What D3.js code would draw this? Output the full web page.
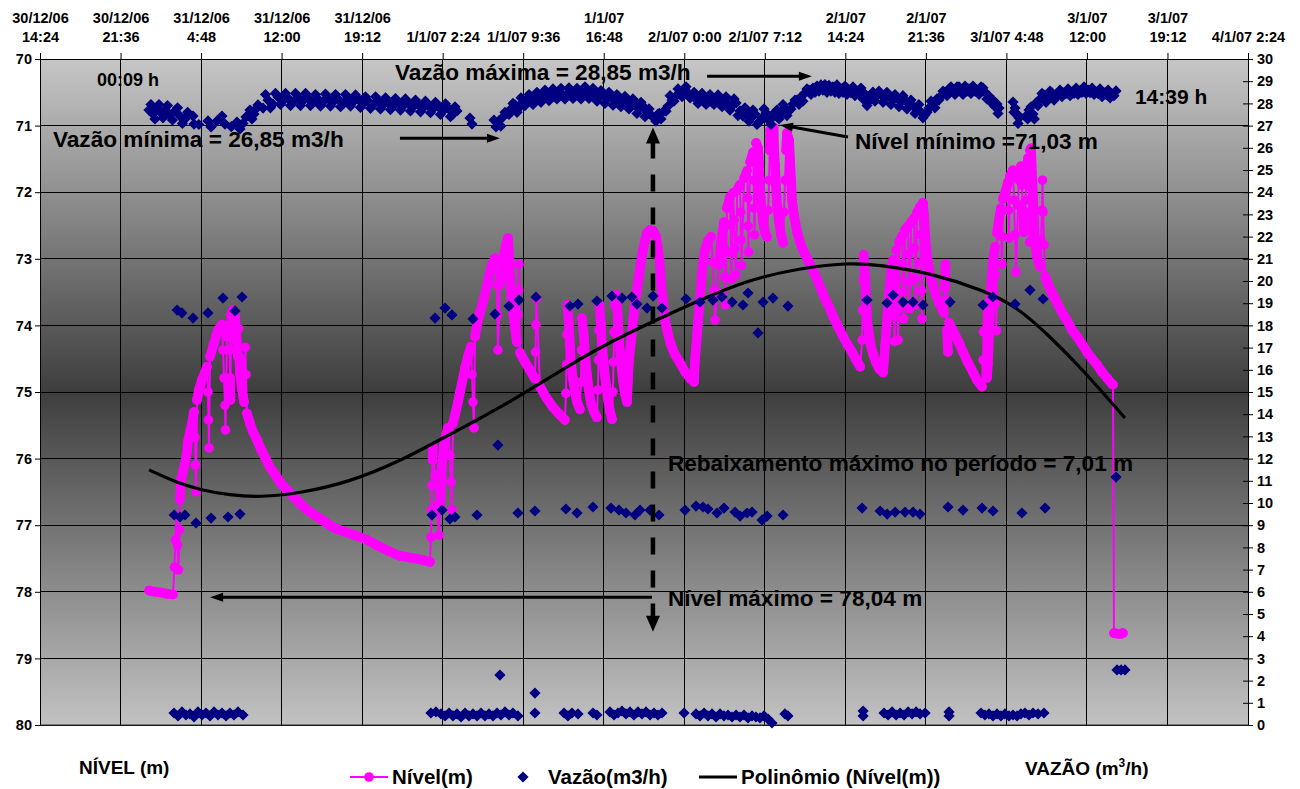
<!DOCTYPE html>
<html>
<head>
<meta charset="utf-8">
<script src="https://cdn.jsdelivr.net/npm/d3@7"></script>
<style>
  body { margin: 0; background: #fff; }
  svg text { font-family: "Liberation Sans", Arial, sans-serif; font-weight: bold; fill: #000; }
</style>
</head>
<body>
<div id="chart"></div>
<script>
// time is in hours counted from 31/12/06 00:00
const timeTicks = [-9.6, -2.4, 4.8, 12, 19.2, 26.4, 33.6, 40.8, 48, 55.2, 62.4, 69.6, 76.8, 84, 91.2, 98.4];
const timeLabels = ["30/12/06\n14:24", "30/12/06\n21:36", "31/12/06\n4:48", "31/12/06\n12:00", "31/12/06\n19:12",
  "1/1/07 2:24", "1/1/07 9:36", "1/1/07\n16:48", "2/1/07 0:00", "2/1/07 7:12", "2/1/07\n14:24", "2/1/07\n21:36",
  "3/1/07 4:48", "3/1/07\n12:00", "3/1/07\n19:12", "4/1/07 2:24"];
const nivelTicks = [70, 71, 72, 73, 74, 75, 76, 77, 78, 79, 80];
const vazaoTicks = [0, 1, 2, 3, 4, 5, 6, 7, 8, 9, 10, 11, 12, 13, 14, 15, 16, 17, 18, 19, 20, 21, 22, 23, 24, 25, 26, 27, 28, 29, 30];

// Nível (m) : [hour, level]
const nivel = [
  [0.15,77.98],[0.68,78.00],[1.22,78.01],[1.75,78.03],[2.29,78.04],
  [2.42,77.63],[2.51,77.22],[2.60,76.85],[2.69,77.30],[2.78,77.67],[2.87,77.07],[2.91,76.62],[3.00,76.32],
  [3.18,76.20],[3.36,76.08],[3.54,75.90],[3.63,75.74],[3.81,75.60],[3.99,75.47],[4.17,75.30],
  [4.26,75.68],[4.30,76.10],[4.35,76.50],
  [4.44,75.12],[4.61,74.97],[4.88,74.82],[5.15,74.71],[5.33,74.62],
  [5.42,75.00],[5.46,75.42],[5.51,75.84],
  [5.60,74.47],[5.87,74.32],[6.13,74.17],[6.31,74.07],[6.67,73.99],
  [6.76,74.37],[6.85,74.79],[6.94,75.20],[6.98,75.57],
  [7.12,74.17],[7.30,73.99],[7.36,74.37],[7.39,74.79],[7.43,75.12],[7.47,73.86],[7.65,73.77],
  [7.83,73.87],[7.92,74.07],[8.01,74.26],[8.10,74.47],[8.16,74.05],[8.22,74.47],[8.28,74.73],[8.46,74.97],[8.64,75.15],
  [8.70,74.74],[8.76,74.33],[8.82,74.74],[8.90,75.32],
  [9.17,75.47],[9.44,75.60],[9.80,75.72],[10.16,75.86],[10.52,75.98],[10.96,76.13],[11.50,76.26],[11.94,76.37],
  [12.48,76.47],[13.11,76.58],[13.64,76.67],[14.27,76.77],[14.98,76.85],[15.79,76.94],[16.59,77.03],[17.49,77.09],
  [18.56,77.15],[19.63,77.22],[20.62,77.31],[21.60,77.39],[22.58,77.46],[23.57,77.49],[24.55,77.52],[25.27,77.55],
  [25.35,77.18],[25.40,76.77],[25.44,76.40],[25.49,76.02],[25.53,75.83],
  [25.71,76.25],[25.89,76.70],[26.07,77.15],
  [26.16,76.77],[26.25,76.44],[26.34,76.10],[26.52,75.80],[26.69,75.65],[26.87,75.54],
  [27.05,75.95],[27.14,76.35],[27.23,76.77],
  [27.32,75.47],[27.50,75.35],[27.77,75.15],[27.95,75.00],[28.22,74.79],[28.40,74.64],[28.66,74.47],[28.93,74.32],
  [29.02,74.74],[29.11,75.15],[29.20,75.54],
  [29.29,74.17],[29.47,73.99],[29.74,73.81],[30.00,73.65],[30.27,73.47],[30.54,73.26],[30.81,73.09],[31.08,72.99],
  [31.26,73.39],[31.30,73.84],[31.34,74.37],
  [31.52,73.39],[31.70,73.14],[31.88,72.94],[32.06,72.79],[32.24,72.69],
  [32.33,72.91],[32.42,73.20],[32.51,73.50],[32.68,73.80],[32.86,74.04],[33.04,74.25],
  [33.13,73.84],[33.17,73.47],[33.22,73.08],
  [33.31,74.41],[33.76,74.55],[34.20,74.67],[34.65,74.80],
  [34.70,74.40],[34.74,73.99],[34.79,73.59],
  [35.10,74.92],[35.64,75.08],[36.26,75.23],[36.80,75.33],[37.33,75.42],
  [37.42,75.02],[37.47,74.59],[37.51,74.14],[37.56,73.69],[37.69,73.99],[37.78,74.29],[37.87,74.56],[38.05,74.80],
  [38.23,75.00],[38.41,75.15],[38.67,75.26],
  [38.76,74.85],[38.81,74.37],[38.85,73.89],[39.03,74.17],[39.12,74.44],[39.30,74.73],[39.48,74.98],[39.66,75.17],
  [39.93,75.30],[40.19,75.38],
  [40.28,74.97],[40.33,74.52],[40.37,74.07],[40.42,73.69],[40.55,73.99],[40.64,74.29],[40.82,74.61],[41.00,74.89],
  [41.18,75.12],[41.36,75.29],[41.54,75.41],
  [41.63,75.00],[41.67,74.55],[41.72,74.10],[41.80,73.69],[41.89,73.54],[42.07,73.89],[42.16,74.22],[42.34,74.55],
  [42.52,74.83],[42.70,75.03],[42.88,75.15],
  [42.96,74.85],[43.05,74.55],[43.23,74.25],[43.41,73.95],[43.59,73.69],[43.77,73.47],[43.95,73.26],[44.13,73.05],
  [44.31,72.87],[44.49,72.72],[44.67,72.61],[44.94,72.57],[45.21,72.58],[45.47,72.66],
  [45.65,72.84],[45.83,73.09],[45.92,73.36],[46.10,73.65],[46.28,73.92],[46.55,74.13],[46.81,74.29],[47.17,74.44],
  [47.62,74.56],[48.07,74.70],[48.51,74.79],[48.87,74.85],
  [48.96,74.52],[49.05,74.34],[49.14,74.14],[49.23,73.95],[49.32,73.77],[49.41,73.59],[49.49,73.42],[49.58,73.24],
  [49.67,73.08],[49.85,72.87],[50.12,72.73],[50.39,72.67],
  [50.57,73.05],[50.66,73.47],[50.75,73.92],
  [50.93,73.50],[51.11,73.09],[51.28,72.75],[51.55,72.45],[51.60,72.85],[51.64,73.27],[51.69,73.69],
  [51.82,72.24],[52.09,72.07],[52.14,72.49],[52.18,72.91],[52.22,73.30],[52.36,72.01],
  [52.45,72.42],[52.54,72.84],[52.63,73.24],
  [52.72,71.97],[52.99,71.89],[53.04,72.30],[53.08,72.72],[53.12,73.10],[53.35,71.79],[53.62,71.68],
  [53.67,72.09],[53.71,72.51],[53.75,72.90],[53.89,71.55],[54.15,71.40],[54.20,71.82],[54.24,72.24],[54.28,72.64],
  [54.42,71.26],[54.60,71.34],
  [54.69,71.59],[54.78,71.89],[54.87,72.19],[55.05,72.45],[55.23,72.61],[55.41,72.67],
  [55.50,72.27],[55.59,71.82],[55.63,71.37],[55.68,71.07],[55.85,71.03],[55.99,71.03],
  [56.02,71.29],[56.11,71.59],[56.20,71.89],[56.29,72.19],[56.47,72.45],[56.65,72.64],[56.83,72.76],
  [56.92,72.30],[57.01,71.82],[57.10,71.37],[57.19,71.11],[57.37,71.22],
  [57.46,71.52],[57.55,71.82],[57.64,72.12],[57.82,72.36],[58.09,72.60],[58.35,72.75],[58.62,72.87],[58.98,72.99],
  [59.34,73.12],[59.79,73.27],[60.15,73.42],[60.51,73.57],[60.95,73.72],[61.31,73.87],[61.76,74.02],[62.20,74.17],
  [62.56,74.28],[63.01,74.40],[63.37,74.52],[63.73,74.62],
  [63.90,74.22],[63.95,73.77],[63.99,73.32],[64.04,72.94],[64.17,73.29],[64.26,73.62],[64.35,73.92],[64.53,74.14],
  [64.71,74.32],[64.89,74.44],[65.16,74.56],[65.42,74.65],[65.78,74.71],
  [65.86,74.52],[65.95,74.31],[66.05,74.10],[66.14,73.89],[66.23,73.69],[66.31,73.50],[66.49,73.20],[66.67,73.02],
  [66.71,73.44],[66.76,73.86],[66.80,74.24],
  [66.94,72.87],
  [67.03,73.32],[67.07,73.77],[67.12,74.22],
  [67.21,72.75],[67.48,72.66],[67.53,73.08],[67.57,73.50],[67.61,73.90],[67.74,72.57],[68.01,72.51],
  [68.05,72.93],[68.10,73.35],[68.14,73.75],[68.28,72.45],[68.55,72.39],
  [68.59,72.84],[68.64,73.29],[68.68,73.69],
  [68.80,72.31],[69.07,72.22],[69.12,72.64],[69.16,73.06],[69.21,73.48],[69.25,73.90],[69.34,72.16],
  [69.43,72.34],[69.52,72.57],[69.61,72.81],[69.79,73.05],[69.97,73.24],[70.23,73.39],[70.50,73.54],[70.86,73.69],
  [71.22,73.81],
  [71.31,73.44],[71.35,73.08],[71.44,73.62],[71.49,74.07],[71.58,74.40],
  [71.67,73.96],[72.11,74.11],[72.56,74.26],[72.92,74.40],[73.37,74.56],[73.81,74.70],[74.17,74.82],[74.62,74.92],
  [74.71,74.52],[74.75,74.10],[74.80,73.69],[74.89,74.07],[74.97,74.49],[75.06,74.79],
  [75.15,74.58],[75.20,74.37],[75.24,74.16],[75.29,73.95],[75.33,73.74],[75.38,73.56],[75.47,73.32],[75.60,73.05],
  [75.78,72.82],[75.82,73.24],[75.87,73.66],[75.91,74.08],[75.96,72.61],[76.14,72.42],[76.31,72.24],
  [76.36,72.66],[76.40,73.08],[76.49,72.10],[76.76,71.97],[76.94,71.85],[76.98,72.27],[77.03,72.69],[77.12,71.76],
  [77.39,71.67],
  [77.48,72.12],[77.57,72.64],[77.66,73.20],
  [77.84,72.19],[77.93,71.82],[78.10,71.61],[78.19,71.89],[78.28,72.27],[78.37,72.60],
  [78.51,72.12],[78.60,71.74],[78.73,71.49],[78.78,71.91],[78.82,72.33],[78.87,72.75],[78.91,71.37],[79.00,71.34],
  [79.09,71.70],[79.18,72.06],[79.27,72.42],[79.36,72.75],[79.54,72.97],[79.81,73.12],
  [79.90,72.72],[79.99,72.27],[80.03,71.82],[80.08,72.30],[80.17,72.79],[80.26,73.26],
  [80.43,73.35],[80.79,73.48],[81.15,73.60],[81.51,73.72],[81.86,73.83],[82.31,73.95],[82.67,74.07],[83.11,74.17],
  [83.56,74.28],[84.01,74.40],[84.45,74.50],[84.90,74.59],[85.35,74.70],[85.79,74.79],[86.24,74.88],[86.33,74.89],
  [86.42,78.62],[86.78,78.63],[87.04,78.63],[87.22,78.62]
];

// Vazão (m3/h) : [hour, flow]
const vazao = [
  // pumping, ~27-29
  [0.14,27.70],[0.50,27.52],[0.86,27.79],[1.22,27.57],[1.57,27.70],[2.02,27.48],[2.47,27.66],[2.91,27.43],
  [3.36,27.30],[4.08,27.43],[4.17,27.07],[5.42,27.21],[5.69,26.94],[6.67,27.43],[6.94,27.07],[8.01,27.16],
  [8.28,26.85],[8.82,27.39],[9.17,27.70],[9.53,27.52],[9.89,27.93],[10.34,27.79],[10.78,28.15],[11.23,27.97],
  [11.68,28.29],[12.12,28.11],[12.57,28.24],[13.02,28.06],[13.46,28.29],[13.91,28.11],[14.36,28.24],[14.81,28.02],
  [15.25,28.20],[15.70,28.06],[16.15,28.24],[16.60,28.06],[17.04,28.20],[17.49,28.02],[17.94,28.24],[18.39,28.06],
  [18.83,28.20],[19.28,27.97],[19.72,28.11],[20.17,27.93],[20.62,28.11],[21.06,27.93],[21.51,28.06],[21.96,27.88],
  [22.40,28.06],[22.85,27.88],[23.30,28.02],[23.75,27.84],[24.19,27.97],[24.64,27.79],[25.09,27.93],[25.54,27.75],
  [25.98,27.88],[26.43,27.66],[26.88,27.79],[27.32,27.52],[27.68,27.66],[28.84,27.34],[29.02,27.07],[30.99,27.25],
  [31.17,26.94],[31.43,27.21],[31.79,27.39],[32.15,27.57],[32.51,27.75],[32.87,27.93],[33.22,27.79],[33.58,28.06],
  [33.94,28.20],[34.30,28.06],[34.65,28.33],[35.01,28.20],[35.37,28.42],[35.73,28.29],[36.08,28.47],[36.44,28.29],
  [36.80,28.51],[37.16,28.33],[37.51,28.42],[37.87,28.56],[38.23,28.33],[38.59,28.51],[38.95,28.38],[39.30,28.60],
  [39.66,28.38],[40.02,28.51],[40.38,28.29],[40.73,28.42],[41.09,28.20],[41.45,28.33],[41.81,28.11],[42.16,28.24],
  [42.52,28.02],[42.88,28.15],[43.24,27.93],[43.59,28.02],[43.95,27.75],[44.31,27.88],[44.67,27.61],[45.03,27.48],
  [45.29,27.34],[45.65,27.52],[45.92,27.30],[46.19,27.66],[46.55,27.88],[46.91,28.15],[47.26,28.33],[47.62,28.51],
  [47.98,28.65],[48.34,28.47],[48.70,28.33],[49.05,28.20],[49.41,28.33],[49.77,28.11],[50.13,28.24],[50.48,28.06],
  [50.84,28.20],[51.20,28.02],[51.55,28.15],[51.91,27.97],[52.27,27.88],[52.63,28.02],[52.98,27.66],[53.25,27.43],
  [53.61,27.61],[53.97,27.34],[54.32,27.52],[54.68,27.16],[54.95,27.34],[55.31,27.57],[55.58,27.21],[55.93,27.39],
  [56.29,27.70],[56.65,27.52],[57.00,27.79],[57.36,27.66],[57.72,27.97],[58.08,28.15],[58.43,28.29],[58.79,28.47],
  [59.15,28.60],[59.51,28.69],[59.86,28.78],[60.22,28.83],[60.58,28.85],[60.94,28.81],[61.29,28.74],[61.65,28.83],
  [62.01,28.65],[62.37,28.78],[62.73,28.60],[63.08,28.74],[63.44,28.56],[63.80,28.69],[64.16,28.42],[64.52,28.11],
  [64.87,28.51],[65.23,28.33],[65.59,28.38],[65.95,28.24],[66.30,28.33],[66.66,28.15],[67.02,28.24],[67.38,28.06],
  [67.73,28.15],[68.09,27.97],[68.45,27.88],[68.81,27.75],[69.16,27.61],[69.52,27.48],[69.88,27.79],[70.24,27.97],
  [70.59,28.20],[70.95,28.33],[71.31,28.51],[71.67,28.65],[72.02,28.56],[72.38,28.74],[72.74,28.60],[73.10,28.78],
  [73.45,28.65],[73.81,28.78],[74.17,28.60],[74.53,28.74],[74.88,28.51],[75.24,28.33],[75.60,28.15],[75.96,27.97],
  [76.14,27.79],[77.39,28.06],[77.57,27.79],[77.75,27.52],[77.93,27.34],[78.55,27.43],[78.82,27.70],[79.18,27.52],
  [79.44,28.02],[79.81,28.20],[80.16,28.38],[80.52,28.29],[80.88,28.47],[81.24,28.38],[81.59,28.60],[81.95,28.47],
  [82.31,28.65],[82.67,28.51],[83.03,28.69],[83.38,28.56],[83.74,28.74],[84.10,28.60],[84.46,28.69],[84.81,28.51],
  [85.17,28.65],[85.53,28.47],[85.89,28.60],[86.24,28.42],[86.60,28.56],
  // pumping, spread of the band
  [0.32,27.95],[0.68,27.30],[1.04,27.95],[1.40,27.35],[1.80,27.90],[2.24,27.25],[2.70,27.80],[3.13,27.10],
  [3.60,27.60],[4.60,27.05],[6.20,27.20],[7.50,26.95],[8.55,27.10],[9.35,27.30],[9.70,27.75],
  [10.56,28.40],[11.00,27.80],[11.45,28.45],[11.90,27.95],[12.35,28.45],[12.80,27.90],[13.24,28.45],[13.69,27.90],
  [14.14,28.45],[14.58,27.90],[15.03,28.40],[15.48,27.88],[15.92,28.42],[16.37,27.88],[16.82,28.40],[17.27,27.85],
  [17.71,28.40],[18.16,27.88],[18.61,28.38],[19.05,27.82],[19.50,28.30],[19.95,27.78],[20.40,28.30],[20.84,27.75],
  [21.29,28.25],[21.73,27.72],[22.18,28.22],[22.63,27.70],[23.07,28.20],[23.52,27.66],[23.97,28.15],[24.42,27.62],
  [24.86,28.10],[25.31,27.58],[25.76,28.05],[26.20,27.50],[26.65,27.98],[27.10,27.40],[27.50,27.85],
  [31.60,26.98],[31.97,27.60],[32.33,27.50],[32.69,28.00],[33.05,27.60],[33.40,28.25],[33.76,27.90],[34.12,28.40],
  [34.48,27.95],[34.83,28.50],[35.19,28.05],[35.55,28.60],[35.91,28.12],[36.26,28.65],[36.62,28.20],[36.98,28.68],
  [37.33,28.20],[37.69,28.70],[38.05,28.22],[38.41,28.68],[38.77,28.20],[39.12,28.75],[39.48,28.22],[39.84,28.68],
  [40.20,28.10],[40.55,28.58],[40.91,28.00],[41.27,28.50],[41.63,27.92],[41.98,28.40],[42.34,27.85],[42.70,28.32],
  [43.06,27.75],[43.41,28.20],[43.77,27.55],[44.13,28.05],[44.49,27.40],[44.85,27.75],[45.47,27.20],[45.78,27.55],
  [46.37,27.65],[46.73,28.35],[47.08,28.10],[47.44,28.65],[47.80,28.30],[48.16,28.75],[48.52,28.25],[48.88,28.50],
  [49.23,28.00],[49.59,28.45],[49.95,27.95],[50.30,28.40],[50.66,27.95],[51.02,28.38],[51.38,27.85],[51.73,28.30],
  [52.09,27.70],[52.45,28.20],[52.80,27.45],[53.43,27.80],[53.79,27.20],[54.14,27.70],[54.50,27.05],[55.13,27.75],
  [55.76,27.05],[56.11,27.60],[56.47,27.30],[56.83,27.95],[57.18,27.45],[57.54,27.75],[57.90,28.15],[58.26,27.95],
  [58.61,28.10],[58.97,28.65],[59.33,28.40],[59.69,28.50],[60.04,28.55],[60.40,28.60],[60.76,28.50],[61.11,28.55],
  [61.47,28.50],[61.83,28.45],[62.19,28.50],[62.55,28.40],[62.90,28.48],[63.26,28.35],[63.62,28.45],[63.98,28.20],
  [64.34,27.90],[64.70,28.25],[65.05,28.10],[65.41,28.55],[65.77,28.05],[66.12,28.50],[66.48,27.95],[66.84,28.40],
  [67.20,27.85],[67.55,28.35],[67.91,27.75],[68.27,28.15],[68.63,27.55],[68.98,27.95],[69.34,27.35],[69.70,27.60],
  [70.06,28.10],[70.41,27.80],[70.77,28.15],[71.13,28.55],[71.49,28.35],[71.85,28.75],[72.20,28.40],[72.56,28.75],
  [72.92,28.40],[73.27,28.55],[73.63,28.45],[73.99,28.55],[74.35,28.40],[74.70,28.70],[75.06,28.20],[75.42,28.05],
  [75.78,27.85],[76.05,27.55],
  [77.48,27.60],[77.84,27.10],[78.70,27.30],[79.00,27.85],[79.30,27.30],[79.62,27.90],[79.98,28.45],[80.34,28.05],
  [80.70,28.55],[81.06,28.15],[81.41,28.40],[81.77,28.30],[82.13,28.45],[82.49,28.35],[82.85,28.45],[83.20,28.40],
  [83.56,28.50],[83.92,28.45],[84.28,28.48],[84.64,28.40],[84.99,28.45],[85.35,28.30],[85.71,28.40],[86.07,28.25],
  [86.42,28.35],
  // ~19
  [2.66,18.69],[3.09,18.56],[4.08,18.33],[5.42,18.56],[6.76,19.23],[7.83,18.65],[8.46,19.28],
  [25.72,18.33],[26.61,18.78],[27.23,18.47],[29.11,18.29],[31.08,18.51],[32.33,18.87],[33.22,19.14],[34.74,19.28],
  [37.78,18.87],[38.50,18.96],[40.19,19.10],[41.54,19.32],[42.43,19.23],[43.32,19.28],[43.77,18.96],[44.67,18.78],
  [45.21,19.32],[46.01,18.78],[48.16,19.19],[49.41,19.05],[50.57,19.14],[51.37,19.28],[52.27,19.05],[53.25,18.92],
  [53.70,19.46],[54.59,17.66],[55.04,19.05],[55.93,19.23],[57.27,18.87],
  [64.34,19.14],[66.13,19.01],[66.67,19.37],[67.56,19.05],[68.45,19.05],[69.34,18.92],[71.76,19.05],
  [74.71,18.92],[75.60,19.28],[77.57,18.96],[78.91,19.59],[80.08,19.19],
  [31.34,12.61],[86.60,11.17],
  // ~9.5
  [2.40,9.46],[2.91,9.37],[3.36,9.46],[4.35,9.10],[5.69,9.32],[7.21,9.37],[8.28,9.50],
  [25.45,9.46],[26.34,9.68],[27.05,9.28],[27.50,9.37],[29.47,9.46],[33.13,9.55],[34.65,9.64],[37.42,9.73],
  [38.41,9.55],[39.84,9.82],[41.45,9.77],[42.16,9.68],[42.79,9.55],[43.59,9.46],[44.04,9.68],[44.94,9.68],
  [45.74,9.46],[48.07,9.68],[49.05,9.86],[49.67,9.82],[50.12,9.73],[50.93,9.55],[51.55,9.77],[52.54,9.59],
  [52.99,9.41],[53.61,9.55],[54.06,9.59],[54.95,9.23],[55.40,9.41],[56.83,9.46],
  [63.90,9.77],[65.51,9.64],[66.14,9.50],[66.85,9.59],[67.74,9.59],[68.45,9.59],[69.07,9.50],[71.58,9.82],
  [72.92,9.68],[74.62,9.77],[75.60,9.64],[78.19,9.55],[80.26,9.77],
  // ~0.5
  [2.38,0.54],[2.74,0.41],[3.09,0.59],[3.45,0.45],[3.81,0.50],[4.17,0.36],[4.52,0.59],[4.88,0.45],[5.24,0.54],
  [5.60,0.41],[5.96,0.59],[6.31,0.45],[6.67,0.54],[7.03,0.41],[7.38,0.54],[7.74,0.45],[8.10,0.59],[8.55,0.45],
  [25.35,0.54],[25.80,0.59],[26.25,0.50],[26.61,0.41],[26.97,0.54],[27.32,0.41],[27.68,0.50],[28.04,0.36],
  [28.40,0.54],[28.75,0.41],[29.11,0.50],[29.47,0.41],[29.83,0.54],[30.18,0.41],[30.54,0.50],[30.90,0.41],
  [31.26,0.54],[31.61,0.45],[31.97,0.59],[32.33,0.45],[32.68,0.54],[33.13,0.41],[31.52,2.25],[34.65,1.44],[34.65,0.54],
  [37.25,0.54],[37.60,0.41],[37.96,0.54],[38.50,0.50],[39.84,0.54],[40.19,0.45],
  [41.36,0.59],[41.72,0.45],[42.07,0.54],[42.43,0.63],[42.79,0.50],[43.15,0.59],[43.50,0.45],[43.86,0.59],
  [44.22,0.50],[44.58,0.59],[44.94,0.45],[45.29,0.54],[45.65,0.45],[46.01,0.54],
  [47.98,0.54],[49.05,0.50],[49.41,0.41],[49.77,0.54],[50.12,0.41],[50.48,0.50],[50.84,0.36],[51.20,0.50],
  [51.55,0.41],[51.91,0.45],[52.27,0.36],[52.63,0.45],[52.98,0.36],[53.34,0.45],[53.70,0.32],[54.06,0.41],
  [54.41,0.36],[54.77,0.32],[55.13,0.41],[55.49,0.27],[55.84,0.09],[57.00,0.50],[57.27,0.41],
  [63.99,0.63],[63.99,0.41],[65.86,0.54],[66.22,0.45],[66.58,0.59],[66.94,0.45],[67.30,0.54],[67.65,0.45],
  [68.01,0.59],[68.37,0.50],[68.73,0.59],[69.08,0.50],[69.53,0.54],
  [71.67,0.59],[71.67,0.41],[74.53,0.54],[74.88,0.45],[75.24,0.50],[75.60,0.41],[75.96,0.50],[76.31,0.41],
  [76.67,0.50],[77.03,0.41],[77.39,0.45],[77.75,0.41],[78.10,0.50],[78.46,0.54],[78.82,0.45],[79.18,0.54],
  [79.63,0.50],[80.16,0.54],
  [86.69,2.48],[87.05,2.48],[87.40,2.48]
];

// Polinômio (Nível(m)) trend
const polinomio = [
  [0.15,76.17],[2.47,76.35],[4.70,76.47],[7.38,76.55],[10.07,76.58],[13.64,76.52],[18.11,76.35],[22.58,76.04],
  [26.43,75.69],[28.84,75.48],[31.52,75.23],[34.47,74.94],[37.51,74.62],[40.46,74.33],[44.94,73.96],[49.40,73.62],
  [53.61,73.32],[58.35,73.14],[62.56,73.06],[65.51,73.09],[69.98,73.21],[74.72,73.47],[77.76,73.72],[80.71,74.17],
  [83.66,74.67],[87.40,75.39]
];

const W = 1300, H = 789;
const plot = { left: 40, right: 1248, top: 59, bottom: 725 };

const svg = d3.select("#chart").append("svg")
  .attr("width", W).attr("height", H);

const x = d3.scaleLinear().domain([timeTicks[0], timeTicks[timeTicks.length - 1]]).range([plot.left, plot.right]);
const yN = d3.scaleLinear().domain([70, 80]).range([plot.top, plot.bottom]);
const yV = d3.scaleLinear().domain([0, 30]).range([plot.bottom, plot.top]);

// background gradient of the plot area
const defs = svg.append("defs");
const grad = defs.append("linearGradient").attr("id", "bg")
  .attr("x1", 0).attr("y1", 0).attr("x2", 0).attr("y2", 1);
grad.append("stop").attr("offset", "0%").attr("stop-color", "#c6c6c6");
grad.append("stop").attr("offset", "50%").attr("stop-color", "#3e3e3e");
grad.append("stop").attr("offset", "100%").attr("stop-color", "#c2c2c2");

svg.append("rect")
  .attr("x", plot.left).attr("y", plot.top)
  .attr("width", plot.right - plot.left).attr("height", plot.bottom - plot.top)
  .attr("fill", "url(#bg)");

// grid
svg.append("g").selectAll("line").data(timeTicks).join("line")
  .attr("x1", d => x(d)).attr("x2", d => x(d))
  .attr("y1", plot.top).attr("y2", plot.bottom)
  .attr("stroke", "#000").attr("stroke-width", 1).attr("shape-rendering", "crispEdges");
svg.append("g").selectAll("line").data(nivelTicks).join("line")
  .attr("x1", plot.left).attr("x2", plot.right)
  .attr("y1", d => yN(d)).attr("y2", d => yN(d))
  .attr("stroke", "#000").attr("stroke-width", 1).attr("shape-rendering", "crispEdges");

// top time axis
const topAxis = svg.append("g").attr("transform", `translate(0,${plot.top})`)
  .call(d3.axisTop(x).tickValues(timeTicks).tickSize(6).tickSizeOuter(0).tickFormat(""));
topAxis.selectAll(".tick").each(function (d, i) {
  const lines = timeLabels[i].split("\n");
  const t = d3.select(this).append("text")
    .attr("text-anchor", "middle").attr("font-size", 14.5);
  lines.forEach((s, j) => {
    t.append("tspan").attr("x", 0)
      .attr("y", (lines.length === 2 && j === 0) ? -36 : -17)
      .text(s);
  });
});

// left axis (Nível)
const leftAxis = svg.append("g").attr("transform", `translate(${plot.left},0)`)
  .call(d3.axisLeft(yN).tickValues(nivelTicks).tickSize(5).tickSizeOuter(0).tickPadding(3).tickFormat(d3.format("d")));
leftAxis.selectAll("text").attr("font-size", 14.5);

// right axis (Vazão)
const rightAxis = svg.append("g").attr("transform", `translate(${plot.right},0)`)
  .call(d3.axisRight(yV).tickValues(vazaoTicks).tickSize(5).tickSizeOuter(0).tickPadding(4).tickFormat(d3.format("d")));
rightAxis.selectAll(".tick line").attr("x1", -5);
rightAxis.selectAll("text").attr("font-size", 14.5);

[topAxis, leftAxis, rightAxis].forEach(a => a.selectAll(".domain, .tick line").attr("stroke", "#000"));
svg.append("line").attr("x1", plot.left).attr("x2", plot.right)
  .attr("y1", plot.bottom).attr("y2", plot.bottom).attr("stroke", "#333");

// Nível series: where consecutive readings sit closer than a marker, the markers merge into a band
const pinks = "#ff00ff";
const pts = nivel.map(d => [x(d[0]), yN(d[1])]);
const runs = [];
let run = [pts[0]];
for (let i = 1; i < pts.length; i++) {
  const p = pts[i - 1], q = pts[i];
  if (Math.hypot(q[0] - p[0], q[1] - p[1]) < 24.5) run.push(q);
  else { runs.push(run); run = [q]; }
}
runs.push(run);

const gN = svg.append("g");
gN.selectAll("path.band").data(runs.filter(r => r.length > 1)).join("path")
  .attr("class", "band")
  .attr("d", d3.line())
  .attr("fill", "none").attr("stroke", pinks).attr("stroke-width", 9.6)
  .attr("stroke-linecap", "round").attr("stroke-linejoin", "round");
gN.append("path").datum(nivel)
  .attr("d", d3.line().x(d => x(d[0])).y(d => yN(d[1])))
  .attr("fill", "none").attr("stroke", pinks).attr("stroke-width", 2);
gN.selectAll("circle").data(nivel).join("circle")
  .attr("cx", d => x(d[0])).attr("cy", d => yN(d[1])).attr("r", 4.8)
  .attr("fill", pinks);

// trend line
svg.append("path").datum(polinomio)
  .attr("d", d3.line().curve(d3.curveBasis).x(d => x(d[0])).y(d => yN(d[1])))
  .attr("fill", "none").attr("stroke", "#000").attr("stroke-width", 3.2);

// Vazão series
const diamond = "M0,-5.6L5.6,0L0,5.6L-5.6,0Z";
svg.append("g").selectAll("path").data(vazao).join("path")
  .attr("d", diamond)
  .attr("transform", d => `translate(${x(d[0])},${yV(d[1])})`)
  .attr("fill", "#000080");

// annotations
function arrowHead(g, tipX, tipY, ang, len, half) {
  const c = Math.cos(ang), s = Math.sin(ang);
  const bx = tipX - c * len, by = tipY - s * len;
  g.append("path")
    .attr("d", `M${tipX},${tipY}L${bx - s * half},${by + c * half}L${bx + s * half},${by - c * half}Z`)
    .attr("fill", "#000");
}
function arrow(h1, l1, h2, l2) {
  const g = svg.append("g");
  const x1 = x(h1), y1 = yN(l1), x2 = x(h2), y2 = yN(l2);
  const ang = Math.atan2(y2 - y1, x2 - x1);
  g.append("line").attr("x1", x1).attr("y1", y1)
    .attr("x2", x2 - Math.cos(ang) * 8).attr("y2", y2 - Math.sin(ang) * 8)
    .attr("stroke", "#000").attr("stroke-width", 3);
  arrowHead(g, x2, y2, ang, 13, 4.5);
}
function label(h, l, txt, size) {
  svg.append("text").attr("x", x(h)).attr("y", yN(l)).attr("font-size", size).text(txt);
}

label(-4.5, 70.40, "00:09 h", 18);
label(88.29, 70.68, "14:39 h", 21);
label(22.13, 70.32, "Vazão máxima = 28,85 m3/h", 22.6);
arrow(50.04, 70.26, 59.41, 70.26);
label(-8.44, 71.32, "Vazão mínima = 26,85 m3/h", 22.6);
arrow(22.58, 71.19, 31.52, 71.19);
label(63.26, 71.35, "Nível mínimo =71,03 m", 22.6);
arrow(62.64, 71.17, 56.56, 70.99);
label(46.54, 76.19, "Rebaixamento máximo no período = 7,01 m", 22.6);
label(46.54, 78.21, "Nível máximo = 78,04 m", 22.6);
arrow(45.11, 78.08, 5.61, 78.08);

// dashed double arrow for the drawdown
const dg = svg.append("g");
const dx = x(45.2), dTop = yN(71.03), dBot = yN(78.6);
dg.append("line").attr("x1", dx).attr("x2", dx).attr("y1", dTop + 14).attr("y2", dBot - 14)
  .attr("stroke", "#000").attr("stroke-width", 4.5).attr("stroke-dasharray", "17,16");
arrowHead(dg, dx, dTop, -Math.PI / 2, 16, 7);
arrowHead(dg, dx, dBot, Math.PI / 2, 16, 7);

// axis titles
svg.append("text").attr("x", 79).attr("y", 774).attr("font-size", 19).text("NÍVEL (m)");
const vt = svg.append("text").attr("x", 1025).attr("y", 775).attr("font-size", 19);
vt.append("tspan").text("VAZÃO (m");
vt.append("tspan").attr("dy", -8).attr("font-size", 12).text("3");
vt.append("tspan").attr("dy", 8).text("/h)");

// legend
const lg = svg.append("g");
const ly = 777;
lg.append("line").attr("x1", 350).attr("x2", 388).attr("y1", ly).attr("y2", ly)
  .attr("stroke", pinks).attr("stroke-width", 2);
lg.append("circle").attr("cx", 369).attr("cy", ly).attr("r", 4.8).attr("fill", pinks);
lg.append("text").attr("x", 392).attr("y", ly + 7).attr("font-size", 20.5).text("Nível(m)");
lg.append("path").attr("d", diamond).attr("transform", `translate(523,${ly})`).attr("fill", "#000080");
lg.append("text").attr("x", 548).attr("y", ly + 7).attr("font-size", 20.5).text("Vazão(m3/h)");
lg.append("line").attr("x1", 699).attr("x2", 737).attr("y1", ly).attr("y2", ly)
  .attr("stroke", "#000").attr("stroke-width", 3);
lg.append("text").attr("x", 741).attr("y", ly + 7).attr("font-size", 20.5).text("Polinômio (Nível(m))");
</script>
</body>
</html>
